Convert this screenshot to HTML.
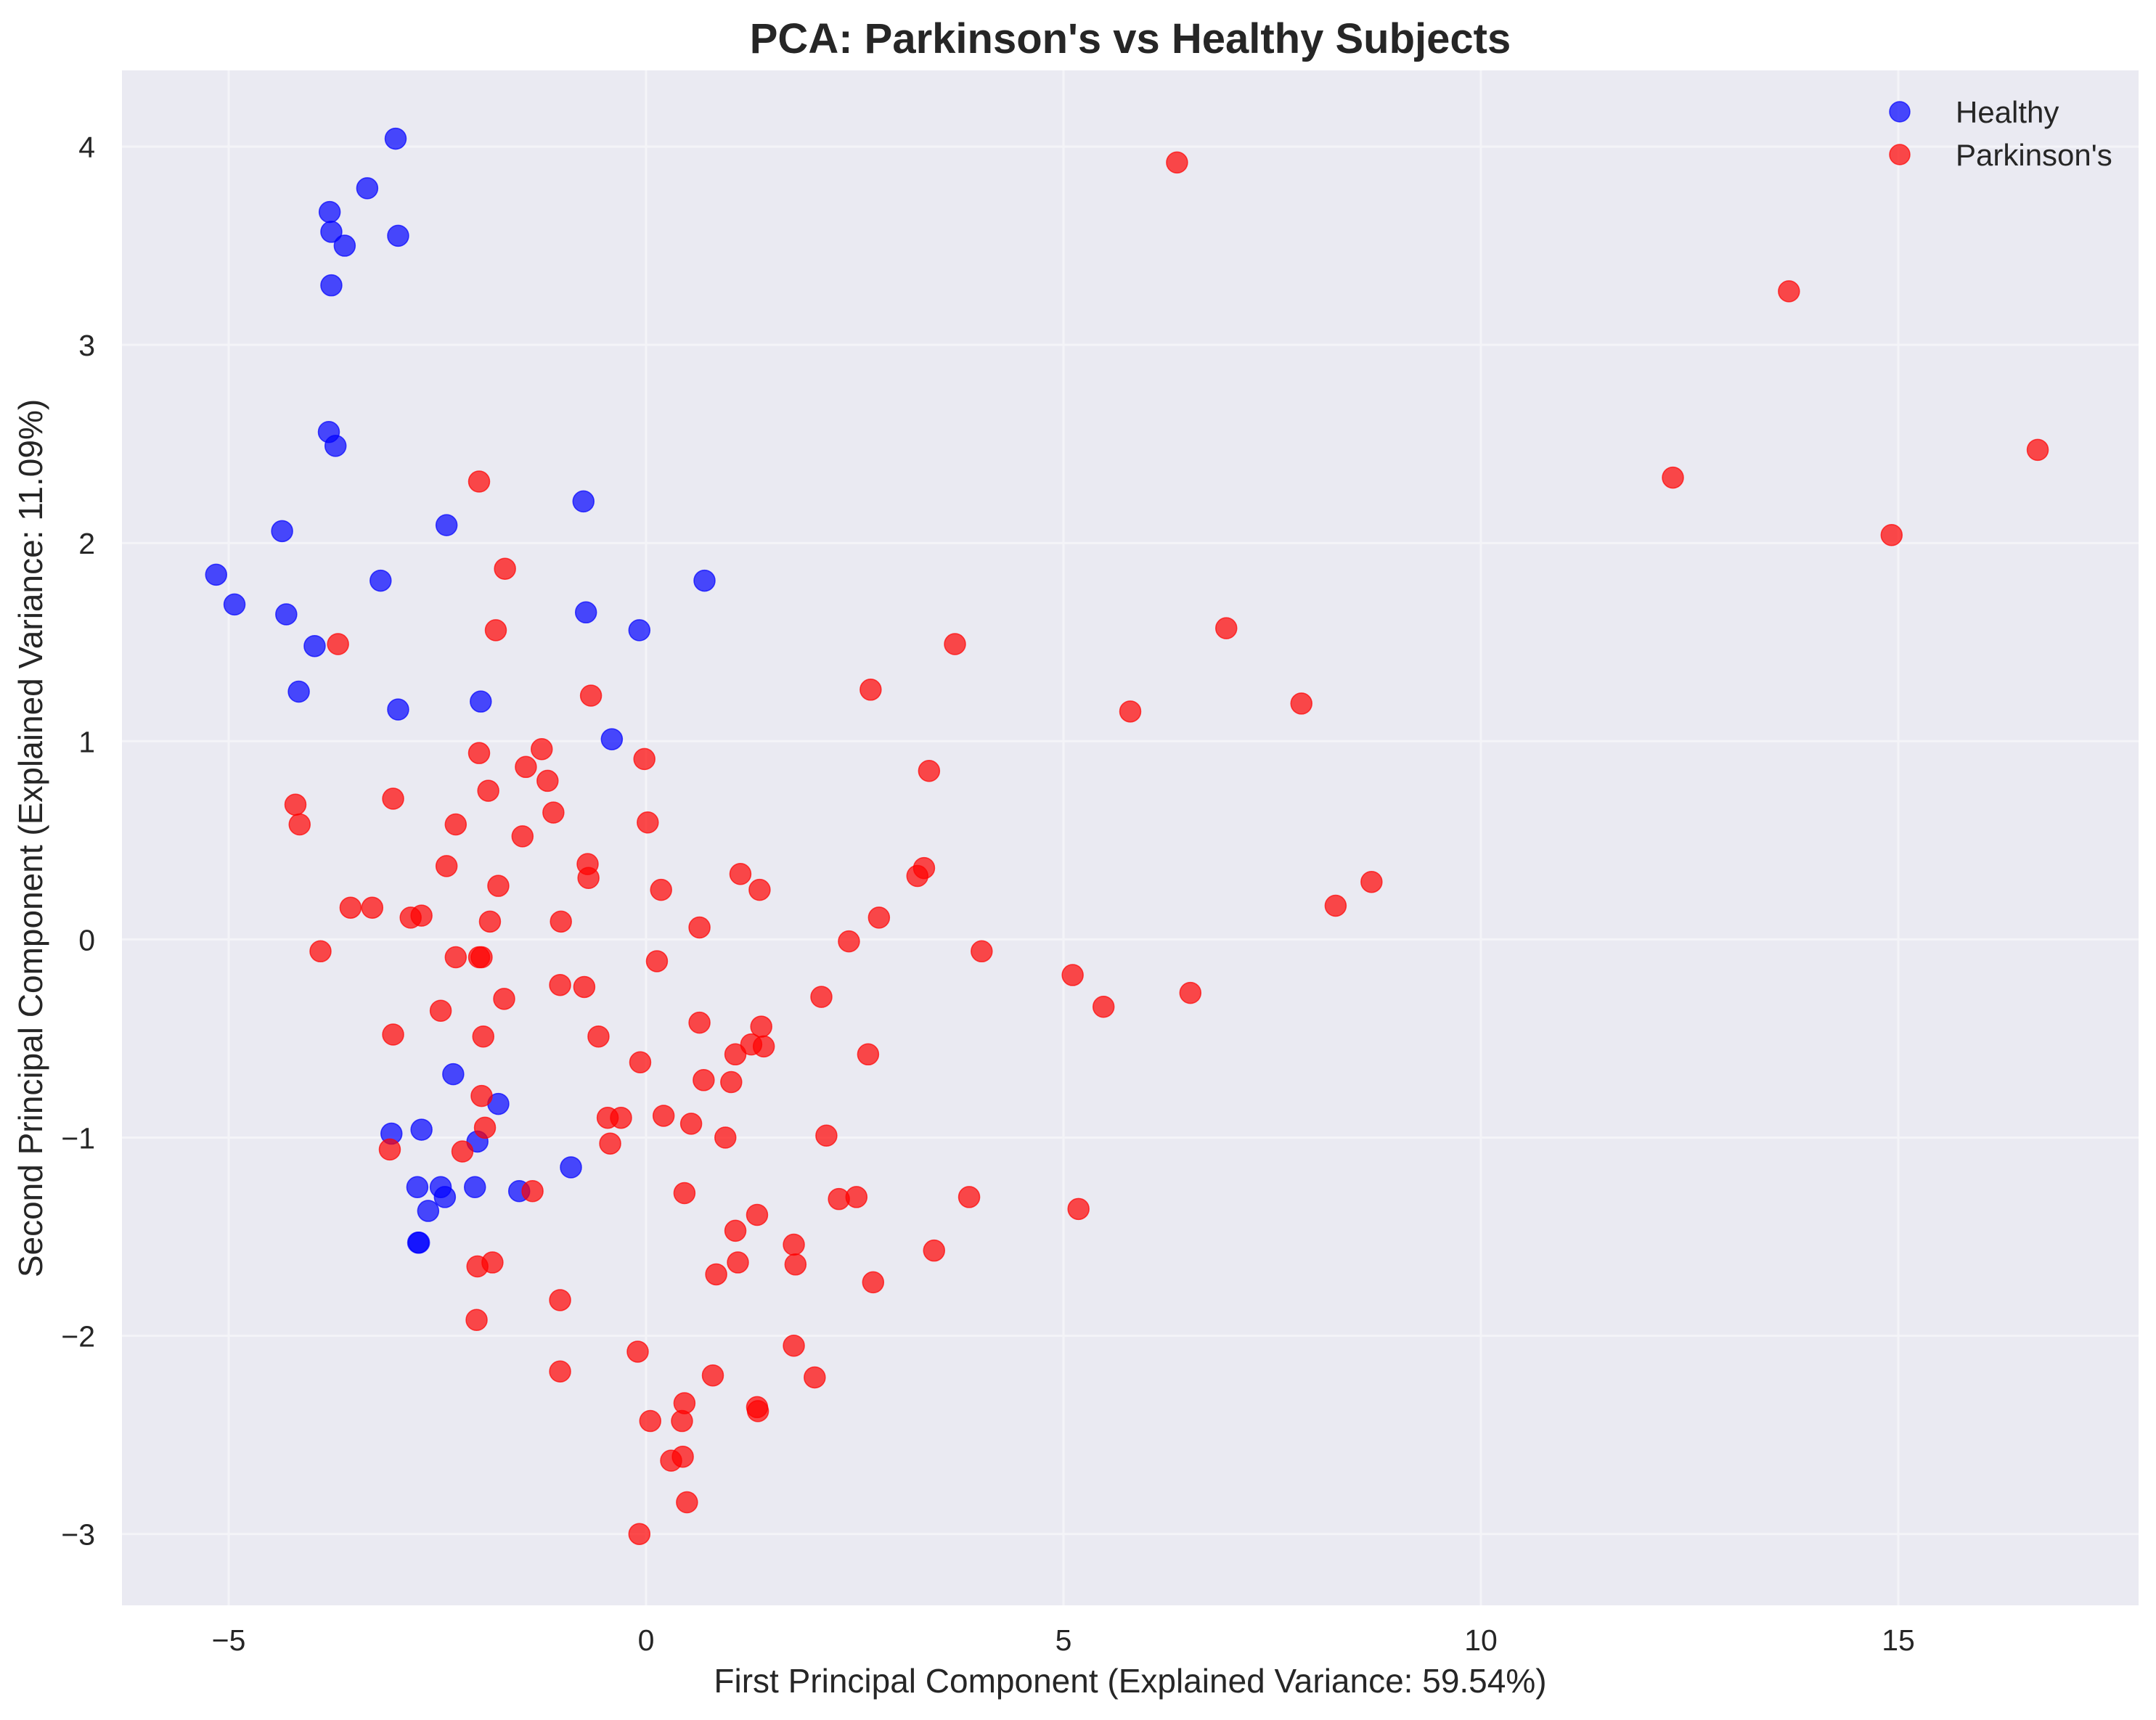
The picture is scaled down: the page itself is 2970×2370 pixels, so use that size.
<!DOCTYPE html>
<html><head><meta charset="utf-8"><style>
html,body{margin:0;padding:0;background:#fff;}
svg{display:block;font-family:"Liberation Sans",Arial,sans-serif;}
</style></head><body>
<svg id="chart" width="2970" height="2370" viewBox="0 0 2970 2370" xmlns="http://www.w3.org/2000/svg">
<rect x="0" y="0" width="2970" height="2370" fill="#ffffff"/>
<rect x="168" y="97" width="2778" height="2115" fill="#eaeaf2"/>
<g id="grid"></g>
<g id="xticks"></g>
<g id="yticks"></g>
<g id="healthy-points"></g>
<g id="pd-points"></g>
<text x="1557" y="73" text-anchor="middle" font-size="58" font-weight="bold" fill="#262626">PCA: Parkinson's vs Healthy Subjects</text>
<text x="1557" y="2332" text-anchor="middle" font-size="46" fill="#262626">First Principal Component (Explained Variance: 59.54%)</text>
<text transform="translate(58,1155) rotate(-90)" text-anchor="middle" font-size="46" fill="#262626">Second Principal Component (Explained Variance: 11.09%)</text>
<g>
<circle cx="2617" cy="154" r="14" fill="#0000ff" fill-opacity="0.7" stroke="#0000ff" stroke-opacity="0.7" stroke-width="1.5"/>
<text x="2694" y="169" font-size="42" fill="#262626">Healthy</text>
<circle cx="2617" cy="213" r="14" fill="#ff0000" fill-opacity="0.7" stroke="#ff0000" stroke-opacity="0.7" stroke-width="1.5"/>
<text x="2694" y="228" font-size="42" fill="#262626">Parkinson's</text>
</g>
</svg>
<script>
const xTicks = [-5, 0, 5, 10, 15];
const yTicks = [-3, -2, -1, 0, 1, 2, 3, 4];
const healthyX = [-3.0,-3.34,-3.79,-3.77,-3.61,-2.97,-3.77,-3.80,-3.72,-4.36,-5.15,-4.93,-4.31,-3.97,-4.16,-3.18,-2.39,-0.75,0.70,-0.72,-0.08,-2.97,-1.98,-0.41,-2.31,-1.77,-2.69,-3.05,-2.02,-0.90,-2.74,-2.46,-2.05,-2.41,-1.52,-2.61,-2.72,-2.73];
const healthyY = [4.04,3.79,3.67,3.57,3.50,3.55,3.30,2.56,2.49,2.06,1.84,1.69,1.64,1.48,1.25,1.81,2.09,2.21,1.81,1.65,1.56,1.16,1.20,1.01,-0.68,-0.83,-0.96,-0.98,-1.02,-1.15,-1.25,-1.25,-1.25,-1.30,-1.27,-1.37,-1.53,-1.53];
const pdX = [6.36,13.69,16.67,12.30,14.92,6.95,5.80,7.85,3.70,2.69,3.39,3.25,3.33,2.79,2.43,4.02,5.11,5.48,6.52,8.26,8.69,-2.00,-1.69,-1.80,-3.69,-0.66,-2.00,-1.25,-0.02,-1.44,-1.18,-1.89,-3.03,-4.20,-4.15,-2.28,-1.11,0.02,-1.48,-2.39,-0.70,-0.69,1.13,1.36,0.18,-1.77,-3.54,-3.28,-2.82,-2.69,-1.87,-1.02,0.64,-3.90,-2.28,-2.00,-1.97,0.13,-1.03,-0.74,-1.70,2.10,-2.46,0.64,1.38,-3.03,-1.95,-0.57,1.26,1.41,1.07,2.66,-0.07,0.69,1.02,-1.97,-0.46,-0.30,0.21,0.54,-1.93,0.95,2.16,-0.43,-3.07,-2.20,-1.36,0.46,2.31,2.52,3.87,5.18,1.33,1.07,1.77,3.45,-1.84,-2.02,1.10,1.79,0.84,2.72,-1.03,-2.03,1.77,-0.10,-1.03,0.80,2.02,0.46,1.33,1.34,0.43,0.05,0.44,0.30,0.49,-0.08];
const pdY = [3.92,3.27,2.47,2.33,2.04,1.57,1.15,1.19,1.49,1.26,0.85,0.32,0.36,0.11,-0.01,-0.06,-0.18,-0.34,-0.27,0.17,0.29,2.31,1.87,1.56,1.49,1.23,0.94,0.96,0.91,0.87,0.80,0.75,0.71,0.68,0.58,0.58,0.64,0.59,0.52,0.37,0.38,0.31,0.33,0.25,0.25,0.27,0.16,0.16,0.11,0.12,0.09,0.09,0.06,-0.06,-0.09,-0.09,-0.09,-0.11,-0.23,-0.24,-0.30,-0.29,-0.36,-0.42,-0.44,-0.48,-0.49,-0.49,-0.53,-0.54,-0.58,-0.58,-0.62,-0.71,-0.72,-0.79,-0.90,-0.90,-0.89,-0.93,-0.95,-1.00,-0.99,-1.03,-1.06,-1.07,-1.27,-1.28,-1.31,-1.30,-1.30,-1.36,-1.39,-1.47,-1.54,-1.57,-1.63,-1.65,-1.63,-1.64,-1.69,-1.73,-1.82,-1.92,-2.05,-2.08,-2.18,-2.20,-2.21,-2.34,-2.36,-2.38,-2.43,-2.43,-2.61,-2.63,-2.84,-3.00];

const NS = "http://www.w3.org/2000/svg";
const PL = 168, PR = 2946, PT = 97, PB = 2212;
function xScale(v){ return 890 + v * 115; }
function yScale(v){ return 202 + (4 - v) * 273.1; }
function mk(tag, attrs){ const e = document.createElementNS(NS, tag); for (const k in attrs) e.setAttribute(k, attrs[k]); return e; }

const grid = document.getElementById('grid');
const xt = document.getElementById('xticks');
const yt = document.getElementById('yticks');
xTicks.forEach(function(t){
  const x = xScale(t);
  const l = mk('line', {x1:x, x2:x, y1:PT, y2:PB, stroke:'#f4f4f8', 'stroke-width':3});
  
  
  grid.appendChild(l);
  const tx = mk('text', {x:x, y:2274, 'text-anchor':'middle', 'font-size':41, fill:'#262626'});
  
  
  tx.textContent = t < 0 ? '\u2212' + Math.abs(t) : String(t);
  xt.appendChild(tx);
});
yTicks.forEach(function(t){
  const y = yScale(t);
  const l = mk('line', {x1:PL, x2:PR, y1:y, y2:y, stroke:'#f4f4f8', 'stroke-width':3});
  
  
  grid.appendChild(l);
  const tx = mk('text', {x:131, y:y + 15, 'text-anchor':'end', 'font-size':41, fill:'#262626'});
  
  
  tx.textContent = t < 0 ? '\u2212' + Math.abs(t) : String(t);
  yt.appendChild(tx);
});
function drawSeries(gid, xs, ys, color, name){
  const g = document.getElementById(gid);
  for (let i = 0; i < xs.length; i++){
    const c = mk('circle', {cx:xScale(xs[i]), cy:yScale(ys[i]), r:14.5, fill:color, 'fill-opacity':0.7, stroke:color, 'stroke-opacity':0.7, 'stroke-width':1.5});
    
    
    g.appendChild(c);
  }
}
drawSeries('healthy-points', healthyX, healthyY, '#0000ff', 'healthy-point');
drawSeries('pd-points', pdX, pdY, '#ff0000', 'parkinsons-point');
</script>
</body></html>
